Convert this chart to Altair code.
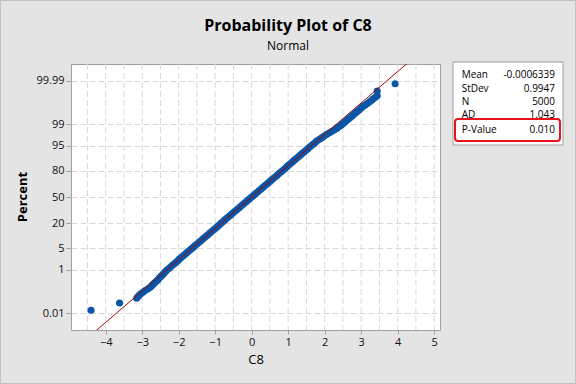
import altair as alt
import pandas as pd
from statistics import NormalDist

# ---------------- data ----------------
pct_band = [0.058, 0.069, 0.082, 0.097, 0.114, 0.135, 0.159, 0.187, 0.219, 0.256,
            0.298, 0.347, 0.402, 0.466, 0.539, 0.621, 0.714, 0.820, 0.939, 1.072,
            1.222, 1.390, 1.578, 1.786, 2.018, 2.275, 2.559, 2.872, 3.216, 3.593,
            4.006, 4.457, 4.947, 5.480, 6.057, 6.681, 7.353, 8.076, 8.851, 9.680,
            10.565, 11.507, 12.507, 13.567, 14.686, 15.866, 17.106, 18.406, 19.766, 21.186,
            22.663, 24.196, 25.785, 27.425, 29.116, 30.854, 32.636, 34.458, 36.317, 38.209,
            40.129, 42.074, 44.038, 46.017, 48.006,
            50.000,
            51.994, 53.983, 55.962, 57.926, 59.871, 61.791, 63.683, 65.542, 67.364, 69.146,
            70.884, 72.575, 74.215, 75.804, 77.337, 78.814, 80.234, 81.594, 82.894, 84.134,
            85.314, 86.433, 87.493, 88.493, 89.435, 90.320, 91.149, 91.924, 92.647, 93.319,
            93.943, 94.520, 95.053, 95.543, 95.994, 96.407, 96.784, 97.128, 97.441, 97.725,
            97.982, 98.214, 98.422, 98.610, 98.778, 98.928, 99.061, 99.180, 99.286, 99.379,
            99.461, 99.534, 99.598, 99.653, 99.702, 99.744, 99.781, 99.813, 99.841, 99.865,
            99.886, 99.903, 99.918, 99.931, 99.942]
x_band = [-3.15, -3.12, -3.08, -3.04, -2.98, -2.92, -2.85, -2.79, -2.74, -2.70,
          -2.66, -2.61, -2.57, -2.53, -2.49, -2.45, -2.41, -2.37, -2.33, -2.28,
          -2.23, -2.18, -2.13, -2.08, -2.03, -1.99, -1.94, -1.89, -1.84, -1.79,
          -1.74, -1.69, -1.64, -1.59, -1.54, -1.49, -1.44, -1.39, -1.34, -1.29,
          -1.24, -1.19, -1.14, -1.09, -1.04, -0.99, -0.94, -0.89, -0.85, -0.80,
          -0.75, -0.70, -0.65, -0.60, -0.55, -0.50, -0.45, -0.40, -0.35, -0.30,
          -0.25, -0.20, -0.15, -0.10, -0.05,
          0.00,
          0.05, 0.10, 0.15, 0.20, 0.25, 0.30, 0.35, 0.40, 0.45, 0.50,
          0.55, 0.60, 0.65, 0.70, 0.75, 0.80, 0.85, 0.90, 0.95, 0.99,
          1.04, 1.09, 1.14, 1.19, 1.24, 1.29, 1.34, 1.39, 1.44, 1.49,
          1.54, 1.59, 1.64, 1.69, 1.74, 1.79, 1.86, 1.92, 1.98, 2.05,
          2.12, 2.19, 2.26, 2.33, 2.39, 2.45, 2.50, 2.55, 2.60, 2.65,
          2.70, 2.75, 2.80, 2.85, 2.90, 2.95, 3.00, 3.05, 3.11, 3.17,
          3.23, 3.29, 3.33, 3.39, 3.44]
pct_tails = [0.014, 0.034, 99.966, 99.986]
x_tails = [-4.40, -3.62, 3.44, 3.93]

stat_labels = ["Mean", "StDev", "N", "AD", "P-Value"]
stat_values = ["-0.0006339", "0.9947", "5000", "1.043", "0.010"]
MEAN = -0.0006339
STDEV = 0.9947

fit_pct = [0.0005, 99.9995]

y_tick_pcts = [0.01, 1, 5, 20, 50, 80, 95, 99, 99.99]
y_tick_labels = ["0.01", "1", "5", "20", "50", "80", "95", "99", "99.99"]
x_ticks = [-4, -3, -2, -1, 0, 1, 2, 3, 4, 5]
x_grid = [-4.5, -4, -3.5, -3, -2.5, -2, -1.5, -1, -0.5, 0, 0.5, 1, 1.5, 2,
          2.5, 3, 3.5, 4, 4.5, 5]

# ---------------- build tables ----------------
nd = NormalDist()
pts = pd.DataFrame({"Percent": pct_band + pct_tails, "C8": x_band + x_tails})
pts["z"] = [nd.inv_cdf(p / 100) for p in pts["Percent"]]

fit = pd.DataFrame({"Percent": fit_pct})
fit["z"] = [nd.inv_cdf(p / 100) for p in fit["Percent"]]
fit["C8"] = MEAN + STDEV * fit["z"]

tick_z = [nd.inv_cdf(p / 100) for p in y_tick_pcts]
expr = "'" + y_tick_labels[-1] + "'"
for i in range(len(tick_z) - 2, -1, -1):
    mid = (tick_z[i] + tick_z[i + 1]) / 2
    expr = f"datum.value < {mid:.4f} ? '{y_tick_labels[i]}' : ({expr})"

FONT = "Open Sans"
XDOM = [-4.95, 5.16]
YDOM = [-4.264, 4.264]
xscale = alt.Scale(domain=XDOM, nice=False, zero=False)
yscale = alt.Scale(domain=YDOM, nice=False, zero=False)
GRID = "#d9d9d9"
FRAME = "#a0a0a0"

xaxis = alt.Axis(
    values=x_ticks, grid=False, domain=False, title=None, tickSize=4,
    tickColor=FRAME, labelPadding=2, labelFont=FONT, labelFontSize=11,
    labelColor="#111111", labelFlush=False)
yaxis = alt.Axis(
    values=tick_z, labelExpr=expr, grid=True, gridColor=GRID, gridDash=[6, 3],
    domain=False, title=None, tickSize=5, tickColor=FRAME, labelPadding=2,
    labelFont=FONT, labelFontSize=11, labelColor="#111111", labelFlush=False)

grid_layer = alt.Chart(pd.DataFrame({"g": x_grid})).mark_rule(
    color=GRID, strokeDash=[6, 3], strokeWidth=1
).encode(x=alt.X("g:Q", scale=xscale, axis=xaxis))

points = alt.Chart(pts).mark_circle(size=50, color="#0a55a6", opacity=1).encode(
    x=alt.X("C8:Q", scale=xscale, axis=xaxis),
    y=alt.Y("z:Q", scale=yscale, axis=yaxis),
)

fit_line = alt.Chart(fit).mark_line(color="#9b0a0a", strokeWidth=1, clip=True).encode(
    x=alt.X("C8:Q", scale=xscale, axis=xaxis),
    y=alt.Y("z:Q", scale=yscale, axis=yaxis),
)

one = pd.DataFrame({"a": [0]})


def box(x1, x2, y1, y2, **kw):
    return alt.Chart(one).mark_rect(**kw).encode(
        x=alt.value(x1), x2=alt.value(x2), y=alt.value(y1), y2=alt.value(y2))


def label(text, x, y, **kw):
    return alt.Chart(pd.DataFrame({"t": [text]})).mark_text(font=FONT, **kw).encode(
        text="t:N", x=alt.value(x), y=alt.value(y))


layers = [grid_layer, points, fit_line]

# outer border of whole picture
layers.append(box(-70.5, 504.5, -63.5, 319.5, fill=None, stroke="#c3c3c3", strokeWidth=1))

# titles
layers.append(label("Probability Plot of C8", 217, -33, fontSize=16, fontWeight="bold",
                    align="center", baseline="alphabetic", color="#000000"))
layers.append(label("Normal", 217, -14, fontSize=12, align="center",
                    baseline="alphabetic", color="#000000"))
layers.append(label("Percent", -48, 133, fontSize=13, fontWeight="bold", angle=270,
                    align="center", baseline="middle", color="#000000"))
layers.append(label("C8", 185, 300, fontSize=13, align="center",
                    baseline="alphabetic", color="#000000"))

# stats box
layers.append(box(382, 492, -2, 81, fill="white", stroke=FRAME, strokeWidth=1))
layers.append(box(384, 489, 55, 77, fill=None, stroke="#e8141c", strokeWidth=2,
                  cornerRadius=3))
row_y = [14.3, 27.6, 40.9, 54.2, 69.3]
for lab, val, yy in zip(stat_labels, stat_values, row_y):
    layers.append(label(lab, 390.7, yy, fontSize=10, align="left",
                        baseline="alphabetic", color="#000000"))
    layers.append(label(val, 484, yy, fontSize=10, align="right",
                        baseline="alphabetic", color="#000000"))

chart = alt.layer(*layers).properties(
    width=369, height=266,
    autosize=alt.AutoSizeParams(type="none"),
    padding={"left": 71, "top": 64, "right": 136, "bottom": 54},
    background="#e4e4e4",
).configure_view(fill="white", stroke=FRAME, strokeWidth=1)

chart.save("out.html", embed_options={"renderer": "svg", "actions": False})
